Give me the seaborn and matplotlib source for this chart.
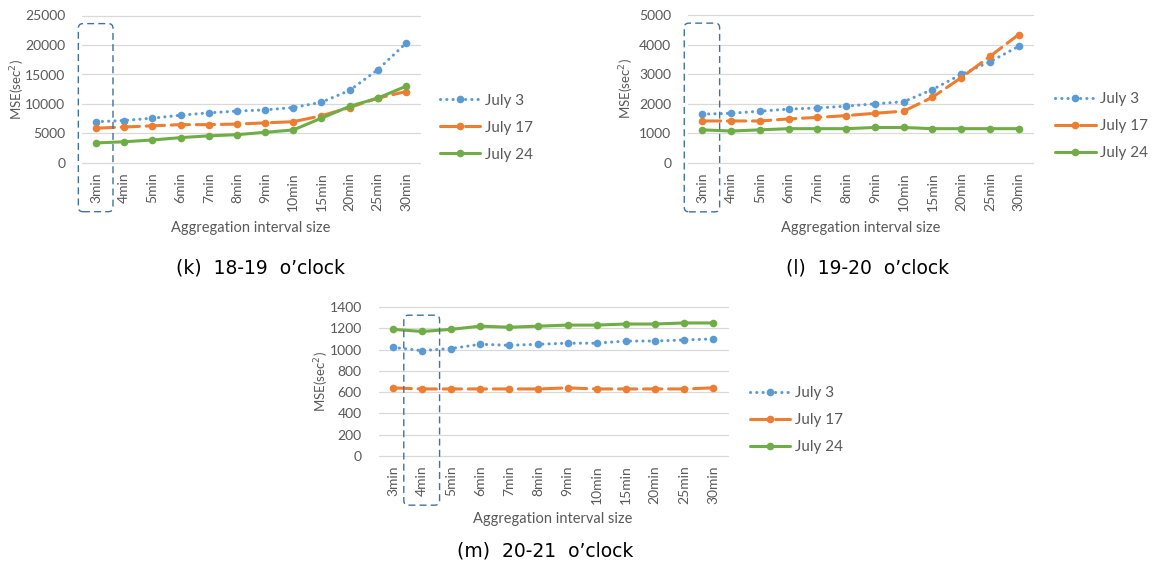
import numpy as np
import pandas as pd
import matplotlib
matplotlib.use("Agg")
import matplotlib.pyplot as plt
import seaborn as sns
from matplotlib.patches import FancyBboxPatch

# ---------------- data ----------------
categories = ["3min", "4min", "5min", "6min", "7min", "8min", "9min", "10min",
              "15min", "20min", "25min", "30min"]
series_names = ["July 3", "July 17", "July 24"]

k_july3 = [7000, 7200, 7600, 8100, 8500, 8800, 9000, 9400, 10300, 12300, 15800, 20300]
k_july17 = [5900, 6100, 6300, 6500, 6500, 6600, 6800, 7000, 8000, 9400, 11000, 12100]
k_july24 = [3400, 3600, 3900, 4300, 4600, 4800, 5200, 5600, 7600, 9600, 11000, 13000]

l_july3 = [1650, 1680, 1750, 1820, 1860, 1920, 2000, 2070, 2480, 2990, 3420, 3940]
l_july17 = [1420, 1420, 1420, 1490, 1540, 1600, 1680, 1750, 2220, 2880, 3600, 4340]
l_july24 = [1120, 1080, 1120, 1160, 1160, 1160, 1200, 1200, 1160, 1160, 1160, 1160]

m_july3 = [1020, 990, 1010, 1050, 1040, 1050, 1060, 1060, 1080, 1080, 1090, 1100]
m_july17 = [640, 630, 630, 630, 630, 630, 640, 630, 630, 630, 630, 640]
m_july24 = [1190, 1170, 1190, 1220, 1210, 1220, 1230, 1230, 1240, 1240, 1250, 1250]

captions = ["(k)  18-19  o\u2019clock", "(l)  19-20  o\u2019clock", "(m)  20-21  o\u2019clock"]
y_ticks = [[0, 5000, 10000, 15000, 20000, 25000],
           [0, 1000, 2000, 3000, 4000, 5000],
           [0, 200, 400, 600, 800, 1000, 1200, 1400]]
highlight = ["3min", "3min", "4min"]

# ---------------- style ----------------
sns.set_theme(style="white")
plt.rcParams["font.family"] = ["Lato", "DejaVu Sans"]
plt.rcParams["lines.dash_capstyle"] = "round"
plt.rcParams["lines.solid_capstyle"] = "round"

W, H = 1159, 573
fig = plt.figure(figsize=(W / 100, H / 100), dpi=100)

colors = {"July 3": "#5B9BD5", "July 17": "#ED7D31", "July 24": "#70AD47"}
dashes = {"July 3": (0.05, 2.0), "July 17": (6, 2.2), "July 24": ""}
gray = "#595959"
grid_c = "#D9D9D9"

def px_axes(left, right, top, bottom):
    return [left / W, 1 - bottom / H, (right - left) / W, (bottom - top) / H]

axes_px = [
    (82, 420, 15.5, 163),
    (688, 1033, 15, 163),
    (378.5, 727.5, 307, 456),
]
panels = [
    (k_july3, k_july17, k_july24),
    (l_july3, l_july17, l_july24),
    (m_july3, m_july17, m_july24),
]
ylabel_x = [-0.162, -0.15, -0.135]
xlabel_y = [-0.39, -0.39, -0.375]
leg_anchor = [(1.059, 0.47), (1.064, 0.48), (1.064, 0.47)]
caption_pos = [(260, 268), (868, 268), (545, 551)]

for i, (vals, apx) in enumerate(zip(panels, axes_px)):
    ax = fig.add_axes(px_axes(*apx))
    df = pd.DataFrame({
        "interval": categories * 3,
        "MSE": list(vals[0]) + list(vals[1]) + list(vals[2]),
        "date": [s for s in series_names for _ in categories],
    })
    sns.lineplot(data=df, x="interval", y="MSE", hue="date", style="date",
                 hue_order=series_names, style_order=series_names,
                 palette=colors, dashes=dashes, markers={"July 3": "o", "July 17": "o", "July 24": "o"},
                 markersize=5.5, markeredgewidth=0, linewidth=2.2, sort=False, ax=ax)
    ax.set_xlim(-0.5, len(categories) - 0.5)
    yt = y_ticks[i]
    ax.set_ylim(0, yt[-1])
    ax.set_yticks(yt)
    ax.set_yticklabels([str(t) for t in yt])
    ax.set_xticks(range(len(categories)))
    ax.set_xticklabels(categories, rotation=90)
    ax.tick_params(axis="both", length=0, colors=gray, labelsize=10)
    ax.tick_params(axis="x", pad=7)
    ax.tick_params(axis="y", pad=12)
    for sp in ax.spines.values():
        sp.set_visible(False)
    for t in yt:
        ax.axhline(t, color=grid_c, lw=0.9, zorder=0, clip_on=False)
    ax.set_ylabel("MSE(sec$^{2}$)", color=gray, fontsize=9.5)
    ax.yaxis.set_label_coords(ylabel_x[i], 0.5)
    ax.set_xlabel("Aggregation interval size", color=gray, fontsize=10.5)
    ax.xaxis.set_label_coords(0.5, xlabel_y[i])

    handles, labels = ax.get_legend_handles_labels()
    if ax.get_legend() is not None:
        ax.get_legend().remove()
    leg = ax.legend(handles, labels, loc="upper left", bbox_to_anchor=leg_anchor[i],
                    frameon=False, fontsize=11, handlelength=2.65, handletextpad=0.3,
                    labelspacing=0.85, borderpad=0, borderaxespad=0)
    for t in leg.get_texts():
        t.set_color(gray)

    # dashed highlight box
    fig.canvas.draw()
    hidx = categories.index(highlight[i])
    x0d = fig.transFigure.inverted().transform(ax.transData.transform((hidx - 0.63, 0)))[0]
    x1d = fig.transFigure.inverted().transform(ax.transData.transform((hidx + 0.6, 0)))[0]
    y0 = fig.transFigure.inverted().transform(ax.transAxes.transform((0, -0.33)))[1]
    y1 = fig.transFigure.inverted().transform(ax.transAxes.transform((0, 0.945)))[1]
    box = FancyBboxPatch((x0d, y0), x1d - x0d, y1 - y0,
                         boxstyle="round,pad=0,rounding_size=0.004",
                         mutation_aspect=W / H, transform=fig.transFigure,
                         fill=False, edgecolor="#41719C", lw=1.0,
                         linestyle=(0, (5, 3)))
    fig.add_artist(box)

    cx, cy = caption_pos[i]
    fig.text(cx / W, 1 - cy / H, captions[i], ha="center", va="center",
             fontsize=13.5, color="black", family=["DejaVu Sans"])

fig.savefig("out.png", dpi=100)
